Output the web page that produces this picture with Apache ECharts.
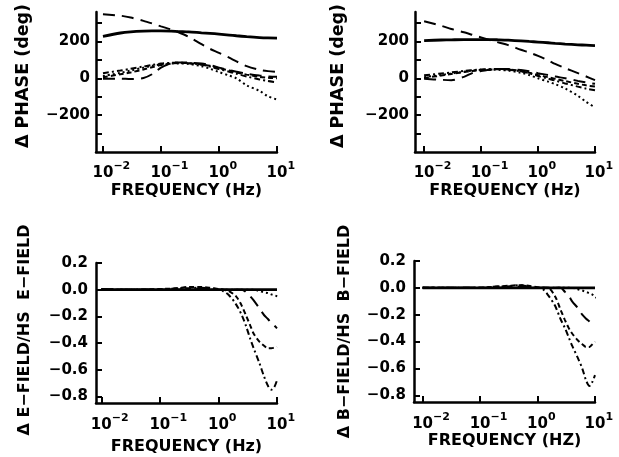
<!DOCTYPE html>
<html>
<head>
<meta charset="utf-8">
<script src="https://cdn.jsdelivr.net/npm/echarts@6.0.0/dist/echarts.min.js"></script>
<style>
  html, body { margin: 0; padding: 0; background: #fff; }
  #main { width: 619px; height: 457px; }
</style>
</head>
<body>
<div id="main"></div>
<script>
  // frequency grids (Hz)
  var phaseFreq = [0.01, 0.02, 0.03, 0.05, 0.07, 0.1, 0.15, 0.2, 0.3, 0.5, 0.7, 1, 1.5, 2, 3, 5, 7, 10];
  var ampFreq = [0.01, 0.03, 0.1, 0.2, 0.3, 0.5, 0.7, 1, 1.2, 1.5, 2, 2.5, 3, 3.5, 4, 5, 6, 7, 8, 9, 10, 11];

  // E-field phase (deg)
  var ePhaseSolid = [228, 246, 252, 256, 257, 257, 256, 254, 252, 247, 244, 240, 235, 231, 226, 221, 219, 218];
  var ePhaseDashTop = [348, 340, 330, 312, 298, 282, 265, 250, 225, 185, 160, 138, 112, 92, 66, 46, 39, 35];
  var ePhaseLong = [-3, -2, -4, 2, 22, 58, 82, 86, 85, 80, 72, 58, 45, 36, 25, 15, 10, 8];
  var ePhaseShort = [6, 22, 32, 48, 60, 72, 80, 83, 82, 76, 68, 55, 42, 32, 20, 8, 3, 0];
  var ePhaseDashDot = [28, 42, 52, 64, 72, 80, 84, 85, 82, 74, 64, 50, 36, 25, 10, -6, -15, -22];
  var ePhaseDot = [12, 30, 42, 58, 68, 76, 80, 81, 78, 66, 52, 34, 15, 0, -38, -68, -98, -115];

  // B-field phase (deg)
  var bPhaseSolid = [205, 208, 209, 210, 210, 210, 210, 209, 207, 203, 200, 197, 193, 190, 186, 182, 180, 178];
  var bPhaseDashTop = [310, 285, 268, 250, 236, 222, 206, 195, 180, 155, 140, 122, 98, 78, 55, 28, 10, -10];
  var bPhaseLong = [-3, -8, -10, 8, 28, 40, 47, 50, 50, 45, 38, 28, 18, 10, 0, -14, -22, -30];
  var bPhaseShort = [2, 15, 24, 34, 40, 45, 48, 49, 48, 40, 30, 18, 6, -3, -15, -30, -38, -45];
  var bPhaseDashDot = [16, 26, 32, 40, 44, 48, 50, 50, 47, 38, 28, 12, -2, -12, -28, -45, -56, -65];
  var bPhaseDot = [6, 18, 26, 36, 42, 46, 47, 46, 42, 30, 18, 0, -18, -32, -55, -95, -128, -158];

  // E-field amplitude difference
  var eAmpSolid = [0, 0, 0, 0, 0, 0, 0, 0, 0, 0, 0, 0, 0, 0, 0, 0, 0, 0, 0, 0, 0, null];
  var eAmpDashDot = [0, 0, 0, 0.01, 0.01, 0.015, 0.01, 0, -0.01, -0.04, -0.11, -0.19, -0.28, -0.37, -0.44, -0.55, -0.65, -0.72, -0.75, -0.73, -0.68, null];
  var eAmpShort = [0, 0, 0.005, 0.01, 0.02, 0.02, 0.015, 0.005, 0, -0.01, -0.05, -0.12, -0.2, -0.27, -0.33, -0.39, -0.42, -0.44, -0.44, -0.435, -0.43, null];
  var eAmpLong = [0.005, 0, 0, 0, 0, 0.01, 0.01, 0, 0, 0, 0, 0, -0.02, -0.05, -0.08, -0.14, -0.19, -0.22, -0.25, -0.27, -0.29, null];
  var eAmpDot = [0, 0, 0, 0, 0, 0, 0, 0, 0, 0, 0, 0, 0, 0, 0, -0.01, -0.02, -0.025, -0.035, -0.042, -0.05, -0.06];

  // B-field amplitude difference
  var bAmpSolid = [0, 0, 0, 0, 0, 0, 0, 0, 0, 0, 0, 0, 0, 0, 0, 0, 0, 0, 0, 0, 0, null];
  var bAmpDashDot = [0, 0, 0, 0.01, 0.01, 0.02, 0.01, 0, -0.005, -0.05, -0.13, -0.23, -0.3, -0.37, -0.43, -0.52, -0.6, -0.69, -0.73, -0.7, -0.65, null];
  var bAmpShort = [0, 0, 0, 0.01, 0.015, 0.02, 0.015, 0.005, 0, 0, -0.06, -0.16, -0.24, -0.3, -0.34, -0.39, -0.42, -0.44, -0.44, -0.42, -0.4, null];
  var bAmpLong = [0, 0, 0, 0, 0, 0.01, 0.01, 0, 0, 0, 0, 0, -0.03, -0.06, -0.1, -0.15, -0.2, -0.23, -0.25, -0.27, -0.28, null];
  var bAmpDot = [0, 0, 0, 0, 0, 0, 0, 0, 0, 0, 0, 0, 0, 0, 0, -0.01, -0.02, -0.03, -0.04, -0.05, -0.065, -0.08];

  var xTicks = [0.01, 0.1, 1, 10];
  var phaseTicks = [-300, -200, -100, 0, 100, 200, 300];
  var phaseLabels = [-200, 0, 200];
  var ampTicks = [-0.8, -0.6, -0.4, -0.2, 0, 0.2];

  var FONT = 'DejaVu Sans';
  var myChart = echarts.init(document.getElementById('main'));

  function minus(s) { return String(s).replace('-', '\u2212'); }

  function xAxisFor(grid, minExp, name, gap, margin) {
    var sup = { fontFamily: FONT, fontWeight: 'bold', fontSize: 11, lineHeight: 12, verticalAlign: 'top', color: '#000' };
    return {
      type: 'log', logBase: 10, gridIndex: grid,
      min: Math.pow(10, minExp), max: 10,
      axisLine: { show: true, onZero: false, lineStyle: { color: '#000', width: 2.5 } },
      axisTick: { show: true, inside: true, length: 6, lineStyle: { color: '#000', width: 2 }, customValues: xTicks },
      minorTick: { show: false },
      splitLine: { show: false },
      axisLabel: {
        show: true, margin: margin, customValues: xTicks,
        formatter: function (v) {
          var e = minus(Math.round(Math.log10(v)));
          return '{g|' + e + '}{b|10}{s|' + e + '}';
        },
        rich: {
          b: { fontFamily: FONT, fontWeight: 'bold', fontSize: 15, lineHeight: 20, verticalAlign: 'bottom', color: '#000' },
          s: sup,
          g: echarts.util.extend(echarts.util.clone(sup), { color: 'rgba(0,0,0,0)' })
        }
      },
      name: name, nameLocation: 'middle', nameGap: gap,
      nameTextStyle: { fontFamily: FONT, fontWeight: 'bold', fontSize: 16, color: '#000' }
    };
  }

  function yAxisFor(grid, min, max, ticks, labels, fmt, name, gap, margin, nameSize, namePad) {
    return {
      type: 'value', gridIndex: grid, min: min, max: max,
      axisLine: { show: true, onZero: false, lineStyle: { color: '#000', width: 2.5 } },
      axisTick: { show: true, inside: true, length: 6, lineStyle: { color: '#000', width: 2 }, customValues: ticks },
      splitLine: { show: false },
      axisLabel: {
        show: true, margin: margin, customValues: labels, formatter: fmt,
        fontFamily: FONT, fontWeight: 'bold', fontSize: 15, color: '#000'
      },
      name: name, nameLocation: 'middle', nameGap: gap,
      nameTextStyle: { fontFamily: FONT, fontWeight: 'bold', fontSize: nameSize, color: '#000', padding: namePad }
    };
  }

  function pairs(xs, ys) {
    return xs.map(function (x, i) { return [x, ys[i]]; });
  }

  var styles = {
    solid: { type: 'solid', width: 2.8 },
    dashTop: { type: [12, 7], width: 2 },
    long: { type: [12, 7], width: 2 },
    short: { type: [5, 3], width: 2 },
    dashDot: { type: [6, 3, 2, 3], width: 2 },
    dot: { type: [2, 3], width: 2 }
  };

  function line(idx, xs, ys, st) {
    var ls = echarts.util.clone(styles[st]);
    ls.color = '#000';
    ls.cap = 'butt';
    return {
      type: 'line', xAxisIndex: idx, yAxisIndex: idx,
      data: pairs(xs, ys), showSymbol: false, smooth: 0.3,
      clip: false, lineStyle: ls, silent: true
    };
  }

  var phaseFmt = function (v) { return minus(v); };
  var ampFmt = function (v) { return minus(v.toFixed(1)); };

  var option = {
    backgroundColor: '#fff',
    animation: false,
    grid: [
      { left: 96, top: 12, width: 181, height: 140 },
      { left: 415, top: 12, width: 180, height: 140 },
      { left: 96, top: 263, width: 181, height: 140 },
      { left: 414, top: 261, width: 181, height: 141 }
    ],
    xAxis: [
      xAxisFor(0, -2.12, 'FREQUENCY (Hz)', 31, 9),
      xAxisFor(1, -2.16, 'FREQUENCY (Hz)', 31, 9),
      xAxisFor(2, -2.09, 'FREQUENCY (Hz)', 36, 10),
      xAxisFor(3, -2.15, 'FREQUENCY (HZ)', 31, 10)
    ],
    yAxis: [
      yAxisFor(0, -400, 360, phaseTicks, phaseLabels, phaseFmt, '\u0394 PHASE (deg)', 64, 6, 17.5, [0, 0, 0, 12]),
      yAxisFor(1, -400, 360, phaseTicks, phaseLabels, phaseFmt, '\u0394 PHASE (deg)', 68, 6, 17.5, [0, 0, 0, 12]),
      yAxisFor(2, -0.85, 0.2, ampTicks, ampTicks, ampFmt, '\u0394 E\u2212FIELD/HS  E\u2212FIELD', 63, 8, 16, [0, 0, 0, 6]),
      yAxisFor(3, -0.85, 0.2, ampTicks, ampTicks, ampFmt, '\u0394 B\u2212FIELD/HS  B\u2212FIELD', 61, 8, 16, [0, 0, 0, 0])
    ],
    series: [
      line(0, phaseFreq, ePhaseSolid, 'solid'),
      line(0, phaseFreq, ePhaseDashTop, 'dashTop'),
      line(0, phaseFreq, ePhaseLong, 'long'),
      line(0, phaseFreq, ePhaseShort, 'short'),
      line(0, phaseFreq, ePhaseDashDot, 'dashDot'),
      line(0, phaseFreq, ePhaseDot, 'dot'),

      line(1, phaseFreq, bPhaseSolid, 'solid'),
      line(1, phaseFreq, bPhaseDashTop, 'dashTop'),
      line(1, phaseFreq, bPhaseLong, 'long'),
      line(1, phaseFreq, bPhaseShort, 'short'),
      line(1, phaseFreq, bPhaseDashDot, 'dashDot'),
      line(1, phaseFreq, bPhaseDot, 'dot'),

      line(2, ampFreq, eAmpSolid, 'solid'),
      line(2, ampFreq, eAmpDashDot, 'dashDot'),
      line(2, ampFreq, eAmpShort, 'short'),
      line(2, ampFreq, eAmpLong, 'long'),
      line(2, ampFreq, eAmpDot, 'dot'),

      line(3, ampFreq, bAmpSolid, 'solid'),
      line(3, ampFreq, bAmpDashDot, 'dashDot'),
      line(3, ampFreq, bAmpShort, 'short'),
      line(3, ampFreq, bAmpLong, 'long'),
      line(3, ampFreq, bAmpDot, 'dot')
    ]
  };

  myChart.setOption(option);
</script>
</body>
</html>
